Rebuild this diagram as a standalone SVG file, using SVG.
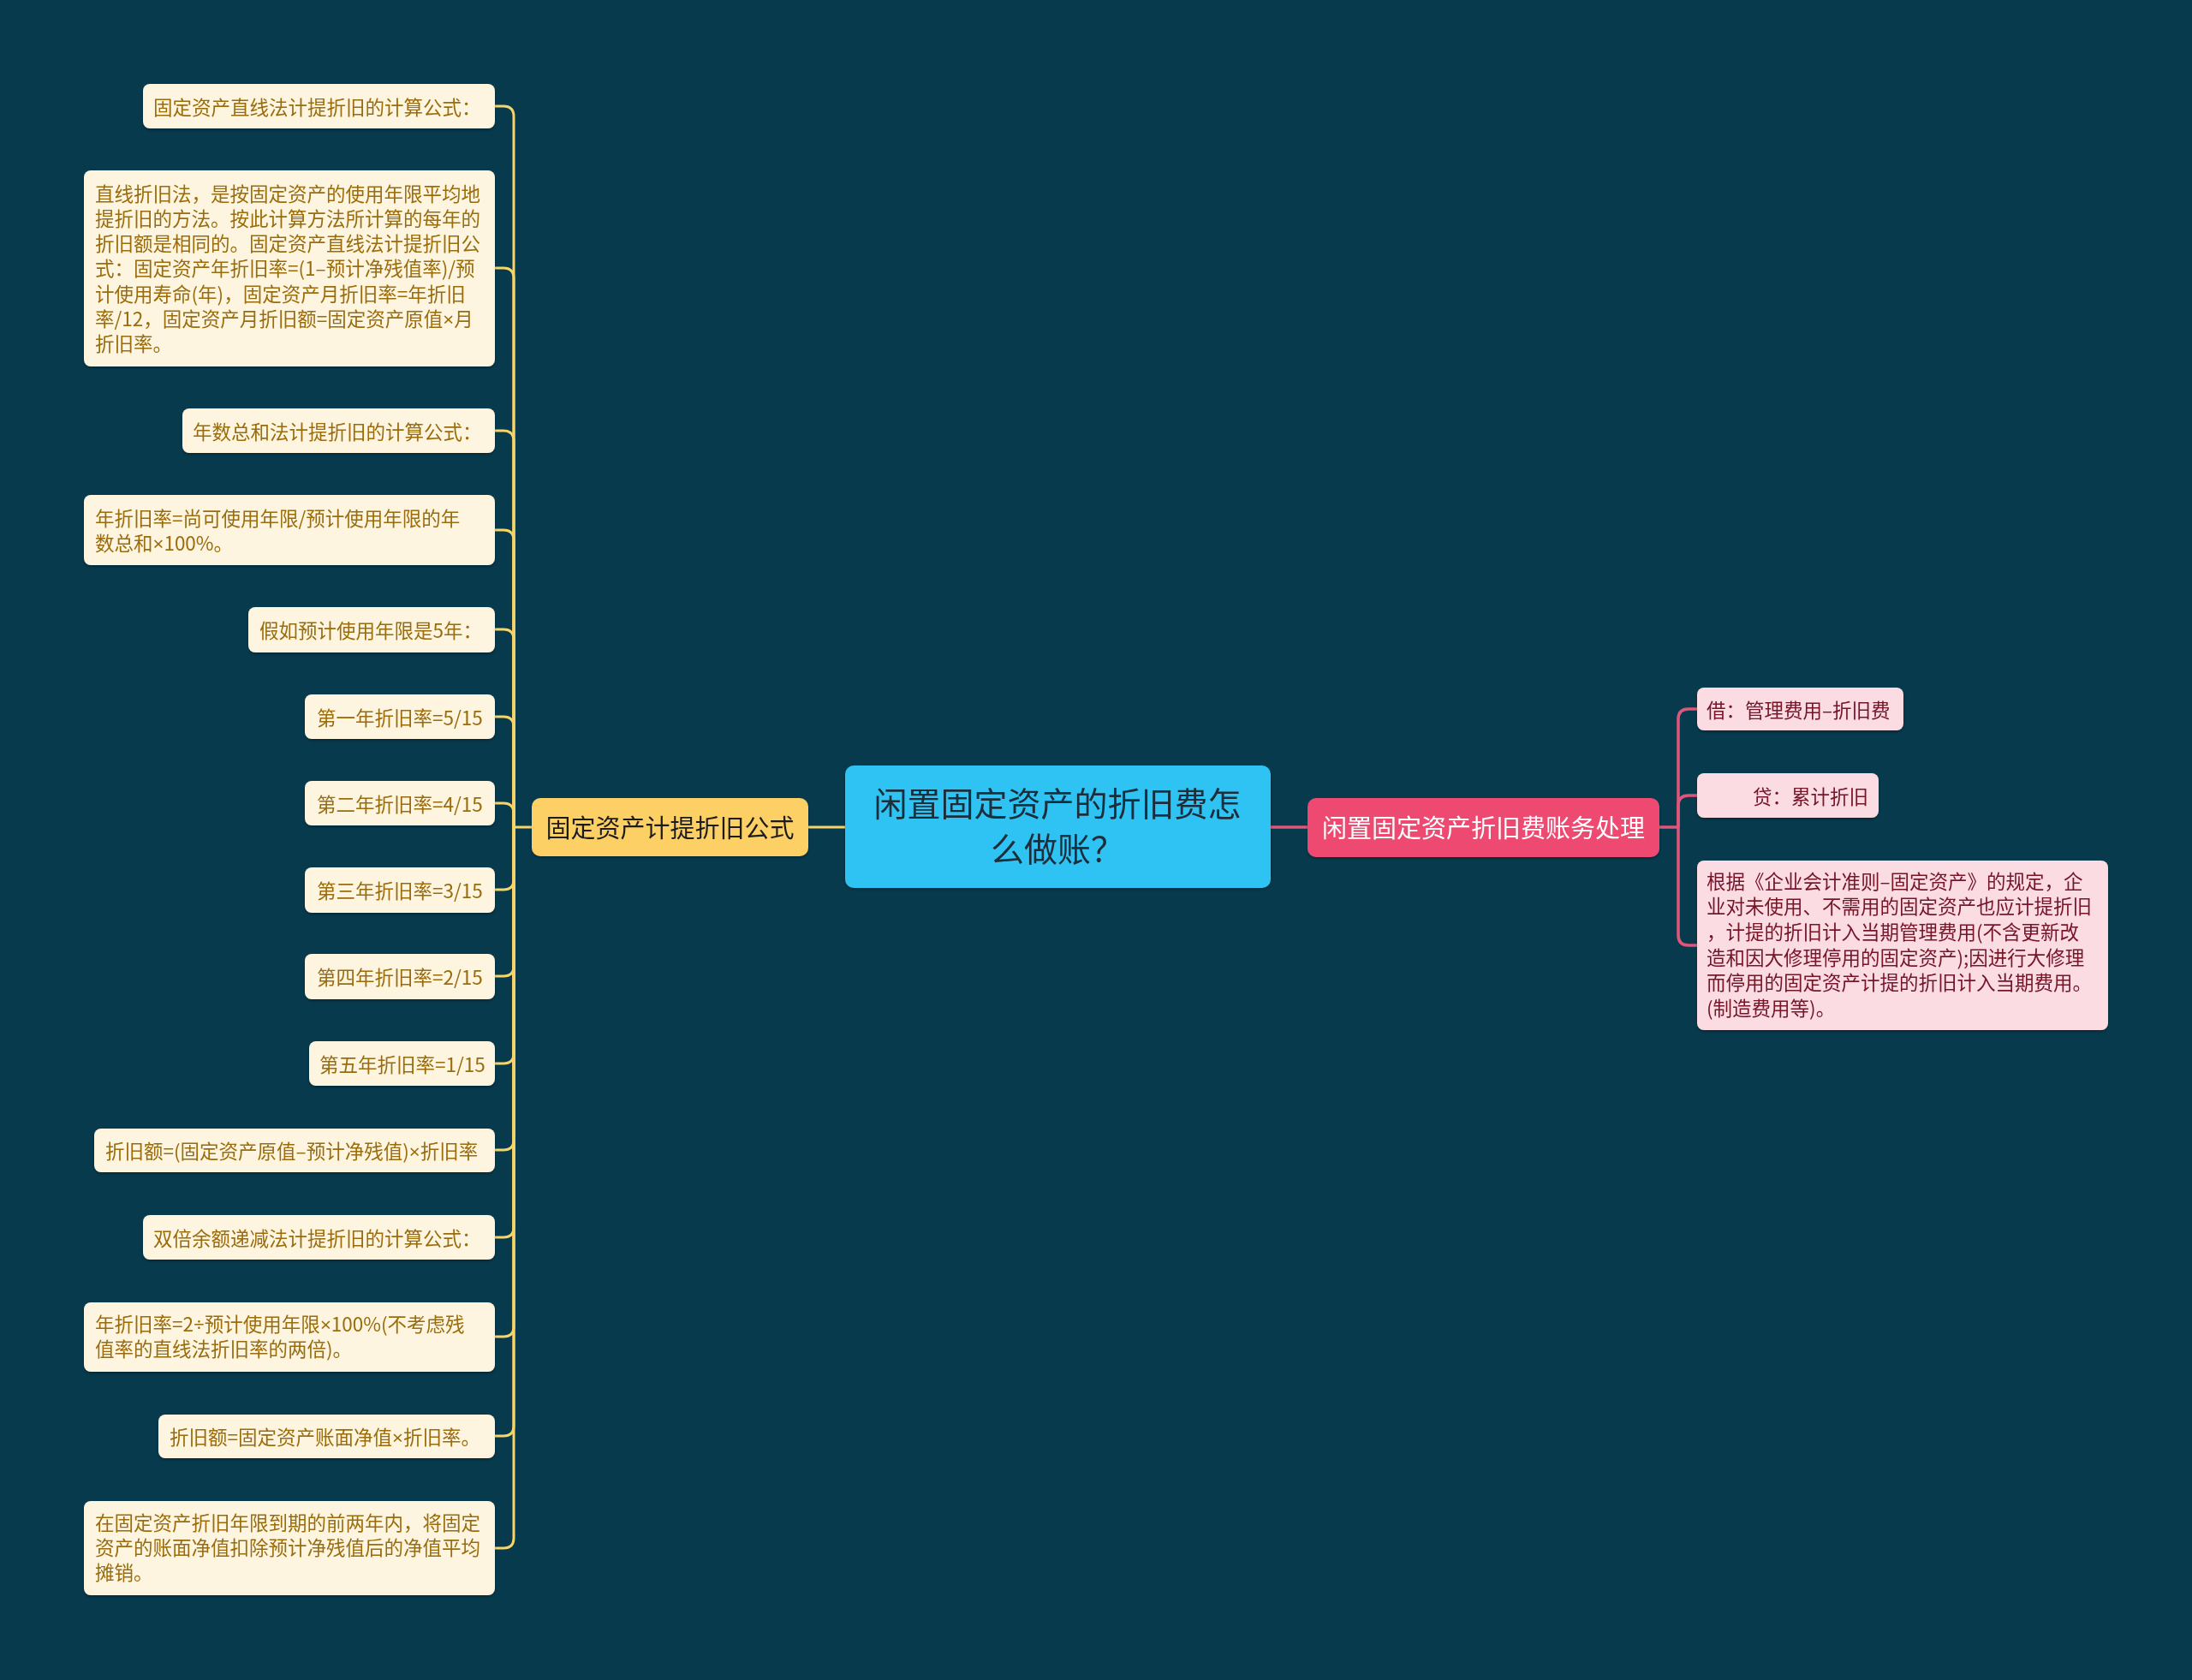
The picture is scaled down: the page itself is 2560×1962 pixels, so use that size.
<svg xmlns="http://www.w3.org/2000/svg" width="2560" height="1962" viewBox="0 0 2560 1962">
<style>
text{font-family:"Noto Sans CJK SC","Noto Sans",sans-serif}
.leafY rect{fill:#fdf5df}
.leafY text{fill:#9b6c0c;font-size:22.5px}
.leafP rect{fill:#fcdce3}
.leafP text{fill:#751228;font-size:22.5px}
.m{font-family:"Noto Sans","Liberation Sans",sans-serif}
.cy{fill:none;stroke:#f6d46a;stroke-width:3}
.cp{fill:none;stroke:#e0567a;stroke-width:3.5}
</style>
<defs>
<filter id="sh" x="-10%" y="-10%" width="120%" height="130%"><feDropShadow dx="0" dy="2" stdDeviation="1.5" flood-color="#000" flood-opacity="0.3"/></filter>
</defs>
<rect width="2560" height="1962" fill="#073a4d"/>
<g id="connectors">
<path class="cy" d="M944,966 H987"/>
<path class="cp" d="M1484,966 H1527"/>
<path class="cy" d="M621,966 H600"/>
<path class="cy" d="M578,124 H588 Q600,124 600,136 V966"/>
<path class="cy" d="M578,313 H588 Q600,313 600,325 V966"/>
<path class="cy" d="M578,503 H588 Q600,503 600,515 V966"/>
<path class="cy" d="M578,619 H588 Q600,619 600,631 V966"/>
<path class="cy" d="M578,735 H588 Q600,735 600,747 V966"/>
<path class="cy" d="M578,837 H588 Q600,837 600,849 V966"/>
<path class="cy" d="M578,938 H588 Q600,938 600,950 V966"/>
<path class="cy" d="M578,1039 H588 Q600,1039 600,1027 V966"/>
<path class="cy" d="M578,1140 H588 Q600,1140 600,1128 V966"/>
<path class="cy" d="M578,1242 H588 Q600,1242 600,1230 V966"/>
<path class="cy" d="M578,1343 H588 Q600,1343 600,1331 V966"/>
<path class="cy" d="M578,1445 H588 Q600,1445 600,1433 V966"/>
<path class="cy" d="M578,1561 H588 Q600,1561 600,1549 V966"/>
<path class="cy" d="M578,1677 H588 Q600,1677 600,1665 V966"/>
<path class="cy" d="M578,1808 H588 Q600,1808 600,1796 V966"/>
<path class="cp" d="M1938,966 H1960"/>
<path class="cp" d="M1982,828 H1972 Q1960,828 1960,840 V966"/>
<path class="cp" d="M1982,929 H1972 Q1960,929 1960,941 V966"/>
<path class="cp" d="M1982,1104 H1972 Q1960,1104 1960,1092 V966"/>
</g>
<g id="root" filter="url(#sh)">
<rect x="987" y="894" width="497" height="143" rx="10" fill="#2fc3f2"/>
<text x="1235" y="953" font-size="39" fill="#1c2d3a" text-anchor="middle">闲置固定资产的折旧费怎</text>
<text x="1235" y="1006" font-size="39" fill="#1c2d3a" text-anchor="middle">么做账？</text>
</g>
<g id="branch-left" filter="url(#sh)">
<rect x="621" y="932" width="323" height="68" rx="10" fill="#fdd066"/>
<text x="782.5" y="977.5" font-size="29" fill="#1f1f1f" text-anchor="middle">固定资产计提折旧公式</text>
</g>
<g id="branch-right" filter="url(#sh)">
<rect x="1527" y="932" width="411" height="69" rx="10" fill="#ee4870"/>
<text x="1732.5" y="977.5" font-size="29" fill="#ffffff" text-anchor="middle">闲置固定资产折旧费账务处理</text>
</g>
<g id="n1" class="leafY" filter="url(#sh)"><rect x="167" y="98" width="411" height="52" rx="8"/><text x="179" y="134">固定资产直线法计提折旧的计算公式：</text></g>
<g id="n2" class="leafY" filter="url(#sh)"><rect x="98" y="199" width="480" height="229" rx="8"/>
<text x="111" y="234.5">直线折旧法，是按固定资产的使用年限平均地</text>
<text x="111" y="263.8">提折旧的方法。按此计算方法所计算的每年的</text>
<text x="111" y="293.1">折旧额是相同的。固定资产直线法计提折旧公</text>
<text x="111" y="322.4">式：固定资产年折旧率=(1–预计净残值率)/预</text>
<text x="111" y="351.7">计使用寿命(年)，固定资产月折旧率=年折旧</text>
<text x="111" y="381">率/12，固定资产月折旧额=固定资产原值<tspan class="m">×</tspan>月</text>
<text x="111" y="410.3">折旧率。</text>
</g>
<g id="n3" class="leafY" filter="url(#sh)"><rect x="213" y="477" width="365" height="52" rx="8"/><text x="225" y="513">年数总和法计提折旧的计算公式：</text></g>
<g id="n4" class="leafY" filter="url(#sh)"><rect x="98" y="578" width="480" height="82" rx="8"/>
<text x="111" y="613.5">年折旧率=尚可使用年限/预计使用年限的年</text>
<text x="111" y="642.5">数总和<tspan class="m">×</tspan>100%。</text>
</g>
<g id="n5" class="leafY" filter="url(#sh)"><rect x="290" y="709" width="288" height="53" rx="8"/><text x="303" y="745">假如预计使用年限是5年：</text></g>
<g id="n6" class="leafY" filter="url(#sh)"><rect x="356" y="811" width="222" height="52" rx="8"/><text x="370" y="847">第一年折旧率=5/15</text></g>
<g id="n7" class="leafY" filter="url(#sh)"><rect x="356" y="912" width="222" height="52" rx="8"/><text x="370" y="948">第二年折旧率=4/15</text></g>
<g id="n8" class="leafY" filter="url(#sh)"><rect x="356" y="1013" width="222" height="53" rx="8"/><text x="370" y="1049">第三年折旧率=3/15</text></g>
<g id="n9" class="leafY" filter="url(#sh)"><rect x="356" y="1114" width="222" height="53" rx="8"/><text x="370" y="1150">第四年折旧率=2/15</text></g>
<g id="n10" class="leafY" filter="url(#sh)"><rect x="361" y="1216" width="217" height="52" rx="8"/><text x="373" y="1252">第五年折旧率=1/15</text></g>
<g id="n11" class="leafY" filter="url(#sh)"><rect x="110" y="1318" width="468" height="51" rx="8"/><text x="123" y="1353">折旧额=(固定资产原值–预计净残值)<tspan class="m">×</tspan>折旧率</text></g>
<g id="n12" class="leafY" filter="url(#sh)"><rect x="167" y="1419" width="411" height="52" rx="8"/><text x="179" y="1455">双倍余额递减法计提折旧的计算公式：</text></g>
<g id="n13" class="leafY" filter="url(#sh)"><rect x="98" y="1521" width="480" height="81" rx="8"/>
<text x="111" y="1554.5">年折旧率=2<tspan class="m">÷</tspan>预计使用年限<tspan class="m">×</tspan>100%(不考虑残</text>
<text x="111" y="1583.5">值率的直线法折旧率的两倍)。</text>
</g>
<g id="n14" class="leafY" filter="url(#sh)"><rect x="185" y="1652" width="393" height="51" rx="8"/><text x="198" y="1687">折旧额=固定资产账面净值<tspan class="m">×</tspan>折旧率。</text></g>
<g id="n15" class="leafY" filter="url(#sh)"><rect x="98" y="1753" width="480" height="110" rx="8"/>
<text x="111" y="1786.5">在固定资产折旧年限到期的前两年内，将固定</text>
<text x="111" y="1815.8">资产的账面净值扣除预计净残值后的净值平均</text>
<text x="111" y="1845.1">摊销。</text>
</g>
<g id="r1" class="leafP" filter="url(#sh)"><rect x="1982" y="803" width="241" height="50" rx="8"/><text x="1993" y="838">借：管理费用–折旧费</text></g>
<g id="r2" class="leafP" filter="url(#sh)"><rect x="1982" y="903" width="212" height="52" rx="8"/><text x="2047" y="939">贷：累计折旧</text></g>
<g id="r3" class="leafP" filter="url(#sh)"><rect x="1982" y="1005" width="480" height="198" rx="8"/>
<text x="1993" y="1037.5">根据《企业会计准则–固定资产》的规定，企</text>
<text x="1993" y="1067.2">业对未使用、不需用的固定资产也应计提折旧</text>
<text x="1993" y="1096.9">，计提的折旧计入当期管理费用(不含更新改</text>
<text x="1993" y="1126.6">造和因大修理停用的固定资产);因进行大修理</text>
<text x="1993" y="1156.3">而停用的固定资产计提的折旧计入当期费用。</text>
<text x="1993" y="1186">(制造费用等)。</text>
</g>
</svg>
